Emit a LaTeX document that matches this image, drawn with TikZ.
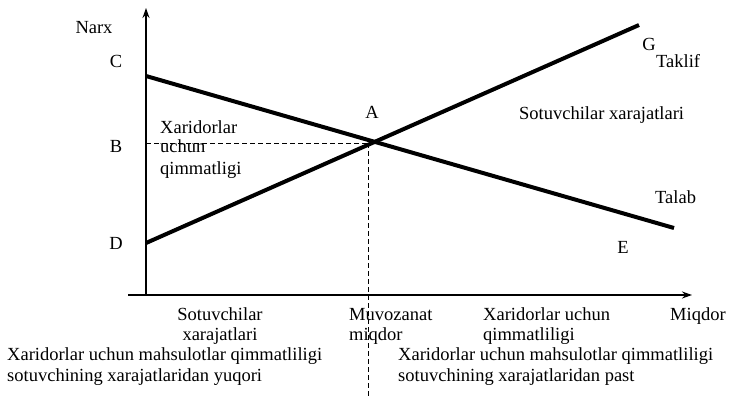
\documentclass[tikz,border=0pt]{standalone}
\usepackage{fontspec}
\setmainfont{Liberation Serif}
\usetikzlibrary{arrows.meta}
\begin{document}
\begin{tikzpicture}[x=1pt,y=-1pt,
  lbl/.style={font=\fontsize{18.5}{20}\selectfont, inner sep=0pt, anchor=base},
  lw/.style={lbl, anchor=base west},
  curve/.style={line width=4pt},
  axis/.style={line width=1.6pt,-{Stealth[length=10pt,width=7pt]}},
  guide/.style={line width=1pt, dash pattern=on 5pt off 3pt}]
\useasboundingbox (0,0) rectangle (729,397);
% axes
\coordinate (O) at (146,295);
\coordinate (ytop) at (146,8);
\coordinate (xl) at (128,295);
\coordinate (xr) at (692,295);
\draw[axis] (O) -- (ytop);
\draw[axis] (xl) -- (xr);
% curves
\coordinate (Cp) at (146,76);
\coordinate (Ep) at (674,228);
\coordinate (Dp) at (146,243);
\coordinate (Gp) at (639,25);
\coordinate (Ap) at (368,143);
\coordinate (Bp) at (146,143);
\coordinate (Qp) at (368,397);
\draw[guide] (Bp) -- (Ap);
\draw[guide] (Ap) -- (Qp);
\draw[curve] (Cp) -- (Ep);
\draw[curve] (Dp) -- (Gp);
% labels
\node[lbl] (narx) at (94,33) {Narx};
\node[lbl] (c) at (116,67) {C};
\node[lbl] (b) at (116,152) {B};
\node[lbl] (d) at (116,249) {D};
\node[lbl] (a) at (372,118) {A};
\node[lbl] (g) at (649,50) {G};
\node[lw] (taklif) at (656,67) {Taklif};
\node[lw] (sx) at (519,119) {Sotuvchilar xarajatlari};
\node[lw] (talab) at (655,203) {Talab};
\node[lbl] (e) at (623,253) {E};
\node[lw] (x1) at (160,133) {Xaridorlar};
\node[lw] (x2) at (160,152) {uchun};
\node[lw] (x3) at (160,174) {qimmatligi};
\node[lbl] (sot1) at (220,320) {Sotuvchilar};
\node[lbl] (sot2) at (220,340) {xarajatlari};
\node[lw] (muv1) at (349,320) {Muvozanat};
\node[lw] (muv2) at (349,340) {miqdor};
\node[lw] (xuq1) at (483,320) {Xaridorlar uchun};
\node[lw] (xuq2) at (483,340) {qimmatliligi};
\node[lw] (miq) at (670,320) {Miqdor};
\node[lw] (bl1) at (7,360) {Xaridorlar uchun mahsulotlar qimmatliligi};
\node[lw] (bl2) at (7,381) {sotuvchining xarajatlaridan yuqori};
\node[lw] (br1) at (398,360) {Xaridorlar uchun mahsulotlar qimmatliligi};
\node[lw] (br2) at (398,381) {sotuvchining xarajatlaridan past};
\end{tikzpicture}
\end{document}
